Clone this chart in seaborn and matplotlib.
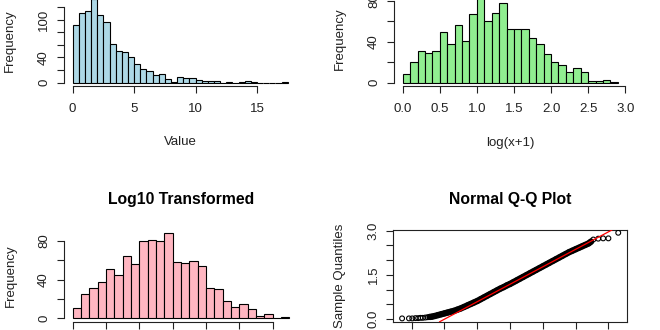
import numpy as np
import pandas as pd
import matplotlib
matplotlib.use("Agg")
import matplotlib.pyplot as plt
import seaborn as sns

# ---------------- data ----------------
value_bin_width = 0.5
value_counts = [91, 110, 114, 133, 107, 97, 62, 51, 49, 41, 29, 22, 18, 12, 14, 6, 1, 9,
                7, 7, 4, 2, 2, 2, 0, 1, 0, 1, 3, 1, 0, 0, 0, 0, 1]

log_bin_width = 0.1
log_counts = [8, 20, 31, 29, 31, 49, 38, 56, 41, 67, 85, 60, 68, 78, 52, 52, 52, 44, 38,
              28, 20, 17, 10, 14, 10, 2, 2, 3, 1]

log10_bin_width = 0.05
log10_counts = [11, 25, 31, 38, 51, 45, 64, 56, 80, 81, 80, 88, 58, 57, 59, 54, 31, 30, 18,
                12, 15, 10, 2, 4, 0, 1]

qq_theoretical = [-3.29, -3.08, -2.98, -2.88, -2.80, -2.73, -2.66, -2.58, -2.51, -2.45, -2.38,
                  -2.30, -2.20, -2.10, -2.00, -1.90, -1.80, -1.70, -1.60, -1.50, -1.40,
                  -1.30, -1.20, -1.10, -1.00, -0.90, -0.80, -0.70, -0.60, -0.50, -0.40,
                  -0.30, -0.20, -0.10, 0.00, 0.10, 0.20, 0.30, 0.40, 0.50, 0.60, 0.70,
                  0.80, 0.90, 1.00, 1.10, 1.20, 1.30, 1.40, 1.50, 1.60, 1.70, 1.80, 1.90,
                  2.00, 2.10, 2.20, 2.30, 2.40, 2.47, 2.54, 2.69, 2.84, 3.00, 3.30]
qq_sample = [0.02, 0.02, 0.02, 0.03, 0.03, 0.04, 0.04, 0.05, 0.06, 0.07, 0.08,
             0.10, 0.13, 0.16, 0.19, 0.22, 0.25, 0.28, 0.32, 0.36, 0.41,
             0.46, 0.51, 0.56, 0.61, 0.67, 0.73, 0.79, 0.85, 0.91, 0.97,
             1.03, 1.08, 1.14, 1.19, 1.25, 1.31, 1.37, 1.43, 1.49, 1.55, 1.61,
             1.67, 1.73, 1.79, 1.85, 1.91, 1.97, 2.03, 2.09, 2.15, 2.21, 2.27, 2.32,
             2.37, 2.42, 2.47, 2.52, 2.57, 2.63, 2.70, 2.73, 2.74, 2.74, 2.93]
# quartile points the reference line goes through
qq_line_x = [-0.674, 0.674]
qq_line_y = [0.78, 1.58]

# ---------------- styling ----------------
sns.set_style("ticks")
plt.rcParams["font.family"] = ["Liberation Sans", "DejaVu Sans"]
INK = "#222222"
FS = 9.5
TFS = 11.3
TICKLEN = 5.0  # points (~7 px)

W, H = 660, 330
fig = plt.figure(figsize=(W / 100, H / 100), dpi=100)


def place(xlim, ylim, x0px, xscale, y0px, yscale):
    """axes whose data value 0 sits at pixel (x0px, y0px) with given px-per-unit scales"""
    left = x0px + xlim[0] * xscale
    right = x0px + xlim[1] * xscale
    top = y0px - ylim[1] * yscale
    bottom = y0px - ylim[0] * yscale
    ax = fig.add_axes([left / W, 1 - bottom / H, (right - left) / W, (bottom - top) / H])
    ax.set_facecolor("none")
    geom = dict(left=left, right=right, top=top, bottom=bottom)
    return ax, geom


def ax_x(g, px):
    return (px - g["left"]) / (g["right"] - g["left"])


def ax_y(g, py):
    return (g["bottom"] - py) / (g["bottom"] - g["top"])


def style_axes(ax, box=False):
    for side in ["top", "right", "left", "bottom"]:
        ax.spines[side].set_color(INK)
        ax.spines[side].set_linewidth(0.8)
        if not box and side in ("top", "right"):
            ax.spines[side].set_visible(False)
    ax.tick_params(axis="both", direction="out", length=TICKLEN, width=0.8,
                   color=INK, labelcolor=INK, labelsize=FS)
    ax.tick_params(axis="x", pad=7.0)
    ax.tick_params(axis="y", pad=5.0)
    ax.grid(False)


def set_yticks(ax, ticks, labels):
    ax.set_yticks(ticks)
    ax.set_yticklabels(labels, rotation=90, va="center")


def set_labels(ax, g, xlabel, xlabel_py, ylabel, ylabel_px):
    if xlabel:
        ax.set_xlabel(xlabel, fontsize=FS, color=INK)
        ax.xaxis.set_label_coords(0.5, ax_y(g, xlabel_py))
        ax.xaxis.label.set_va("center")
    else:
        ax.set_xlabel("")
    ax.set_ylabel(ylabel, fontsize=FS, color=INK)
    ax.yaxis.set_label_coords(ax_x(g, ylabel_px), 0.5)
    ax.yaxis.label.set_va("center")


def hist_panel(counts, width, color, x0px, xscale, y0px, yscale):
    edges = [i * width for i in range(len(counts) + 1)]
    df = pd.DataFrame({"bin_center": [e + width / 2 for e in edges[:-1]], "count": counts})
    span = edges[-1] - edges[0]
    xlim = (edges[0] - 0.04 * span, edges[-1] + 0.04 * span)
    m = max(counts)
    ylim = (-0.04 * m, 1.04 * m)
    ax, g = place(xlim, ylim, x0px, xscale, y0px, yscale)
    sns.histplot(data=df, x="bin_center", weights="count", bins=edges, ax=ax, color=color,
                 edgecolor="black", linewidth=0.8, alpha=1, stat="count")
    ax.set_xlim(xlim)
    ax.set_ylim(ylim)
    style_axes(ax)
    return ax, g


# ---- top-left: original values ----
ax1, g1 = hist_panel(value_counts, value_bin_width, "#ADD8E6", 72.67, 12.29, 82.67, 0.63)
ax1.set_xticks([0, 5, 10, 15])
ax1.set_xticklabels(["0", "5", "10", "15"])
set_yticks(ax1, [0, 20, 40, 60, 80, 100, 120], ["0", "", "40", "", "", "100", ""])
ax1.spines["bottom"].set_bounds(0, 15)
ax1.spines["left"].set_bounds(0, 120)
set_labels(ax1, g1, "Value", 142.5, "Frequency", 10.0)

# ---- top-right: log(x+1) ----
ax2, g2 = hist_panel(log_counts, log_bin_width, "#90EE90", 402.67, 74.2, 82.67, 1.025)
xt2 = [0.0, 0.5, 1.0, 1.5, 2.0, 2.5, 3.0]
ax2.set_xticks(xt2)
ax2.set_xticklabels([f"{v:.1f}" for v in xt2])
set_yticks(ax2, [0, 20, 40, 60, 80], ["0", "", "40", "", "80"])
ax2.spines["bottom"].set_bounds(0, 3.0)
ax2.spines["left"].set_bounds(0, 80)
set_labels(ax2, g2, "log(x+1)", 142.5, "Frequency", 340.0)

# ---- bottom-left: log10 ----
ax3, g3 = hist_panel(log10_counts, log10_bin_width, "#FFB6C1", 72.67, 166.67, 318.33, 0.9667)
ax3.set_xticks([0, 0.2, 0.4, 0.6, 0.8, 1.0, 1.2])
ax3.set_xticklabels([""] * 7)
set_yticks(ax3, [0, 20, 40, 60, 80], ["0", "", "40", "", "80"])
ax3.spines["bottom"].set_bounds(0, 1.2)
ax3.spines["left"].set_bounds(0, 80)
set_labels(ax3, g3, None, None, "Frequency", 10.5)
ax3.set_title("Log10 Transformed", fontsize=TFS, fontweight="bold", color="black",
              y=ax_y(g3, 199.3), pad=0, va="center")

# ---- bottom-right: normal Q-Q plot ----
qq_xlim = (-3.554, 3.554)
qq_ylim = (-0.096, 3.026)
ax4, g4 = place(qq_xlim, qq_ylim, 510.0, 32.8, 319.0, 29.43)
qq_df = pd.DataFrame({"theoretical": qq_theoretical, "sample": qq_sample})
# the dense middle of the Q-Q cloud, where the circles merge into a solid band
dense = qq_df[(qq_df["theoretical"] > -2.5) & (qq_df["theoretical"] < 2.5)]
sns.lineplot(data=dense, x="theoretical", y="sample", ax=ax4, color="black",
             linewidth=4.6, solid_capstyle="round", sort=True, estimator=None)
sns.scatterplot(data=qq_df, x="theoretical", y="sample", ax=ax4, marker="o", s=12,
                facecolor="none", edgecolor="black", linewidth=0.8, zorder=3)
ax4.axline((qq_line_x[0], qq_line_y[0]), (qq_line_x[1], qq_line_y[1]),
           color="red", linewidth=0.9, zorder=4)
ax4.set_xlim(qq_xlim)
ax4.set_ylim(qq_ylim)
style_axes(ax4, box=True)
ax4.set_xticks([-3, -2, -1, 0, 1, 2, 3])
ax4.set_xticklabels([""] * 7)
set_yticks(ax4, [0, 0.5, 1.0, 1.5, 2.0, 2.5, 3.0], ["0.0", "", "", "1.5", "", "", "3.0"])
set_labels(ax4, g4, None, None, "Sample Quantiles", 339.5)
ax4.set_title("Normal Q-Q Plot", fontsize=TFS, fontweight="bold", color="black",
              y=ax_y(g4, 199.3), pad=0, va="center")

fig.savefig("out.png", dpi=100, facecolor="white")
